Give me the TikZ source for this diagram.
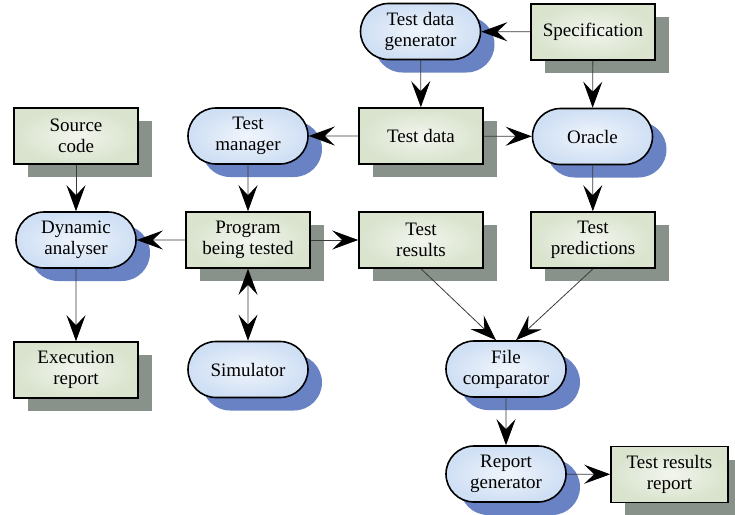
\documentclass[tikz,border=0pt]{standalone}
\usepackage{fontspec}
\setmainfont{Liberation Serif}
\usetikzlibrary{arrows.meta,shapes.misc,shadows}
\definecolor{boxgreen}{HTML}{D9E3CD}
\definecolor{boxlight}{HTML}{F2F5EE}
\definecolor{boxshadow}{HTML}{89928A}
\definecolor{pillblue}{HTML}{CFDFF4}
\definecolor{pilllight}{HTML}{F0F5FC}
\definecolor{pillshadow}{HTML}{6882C4}
\definecolor{linegray}{HTML}{3A3A3A}

\begin{document}
\begin{tikzpicture}[x=1pt,y=-1pt,
    >={Stealth[length=26pt,width=19pt,inset=10pt,color=black]},
    base/.style={draw=black, line width=1.6pt, minimum width=124pt, minimum height=56pt,
      inner sep=2pt, align=center, font=\fontsize{19}{21}\selectfont},
    box/.style={base, rectangle, inner color=boxlight, outer color=boxgreen,
      general shadow={fill=boxshadow, draw=none, shadow xshift=14pt, shadow yshift=-13pt}},
    pill/.style={base, rounded rectangle, inner color=pilllight, outer color=pillblue,
      general shadow={fill=pillshadow, draw=none, shadow xshift=14pt, shadow yshift=-13pt}},
    link/.style={draw=linegray, line width=0.8pt}]
  \useasboundingbox (0,0) rectangle (735,514);

  % top rows
  \node [pill] (gen) at (420.5,31.5) {Test data\\generator};
  \node [box] (spec) at (593,32) {Specification};
  \node [box] (src) at (76,136) {Source\\code};
  \node [pill] (mgr) at (248,136) {Test\\manager};
  \node [box] (data) at (421,136) {Test data};
  \node [pill] (orc) at (592.5,136.5) {Oracle};

  % middle row
  \node [pill] (dyn) at (76,240) {Dynamic\\analyser};
  \node [box] (prog) at (248,240) {Program\\being tested};
  \node [box] (res) at (421,240) {Test\\results};
  \node [box] (pred) at (593,240) {Test\\predictions};

  % bottom rows
  \node [box] (exe) at (76,370) {Execution\\report};
  \node [pill] (sim) at (248,369.5) {Simulator};
  \node [pill] (cmp) at (506,369) {File\\comparator};
  \node [pill] (rep) at (506,474) {Report\\generator};
  \node [box, minimum width=117pt] (out) at (669.5,474.5) {Test results\\report};

  % connectors
  \draw [link, ->] (spec) -- (gen);
  \draw [link, ->] (gen) -- (data);
  \draw [link, ->] (spec) -- (orc);
  \draw [link, ->] (data) -- (mgr);
  \draw [link, ->] (data) -- (orc);
  \draw [link, ->] (mgr) -- (prog);
  \draw [link, ->] (src) -- (dyn);
  \draw [link, ->] (prog) -- (dyn);
  \draw [link, ->] (prog) -- (res);
  \draw [link, <->] (prog) -- (sim);
  \draw [link, ->] (orc) -- (pred);
  \draw [link, ->] (dyn) -- (exe);
  \draw [link, ->] (res.south) -- ([xshift=-10pt]cmp.north);
  \draw [link, ->] (pred.south) -- ([xshift=10pt]cmp.north);
  \draw [link, ->] (cmp) -- (rep);
  \draw [link, ->] (rep) -- (out);
\end{tikzpicture}
\end{document}
